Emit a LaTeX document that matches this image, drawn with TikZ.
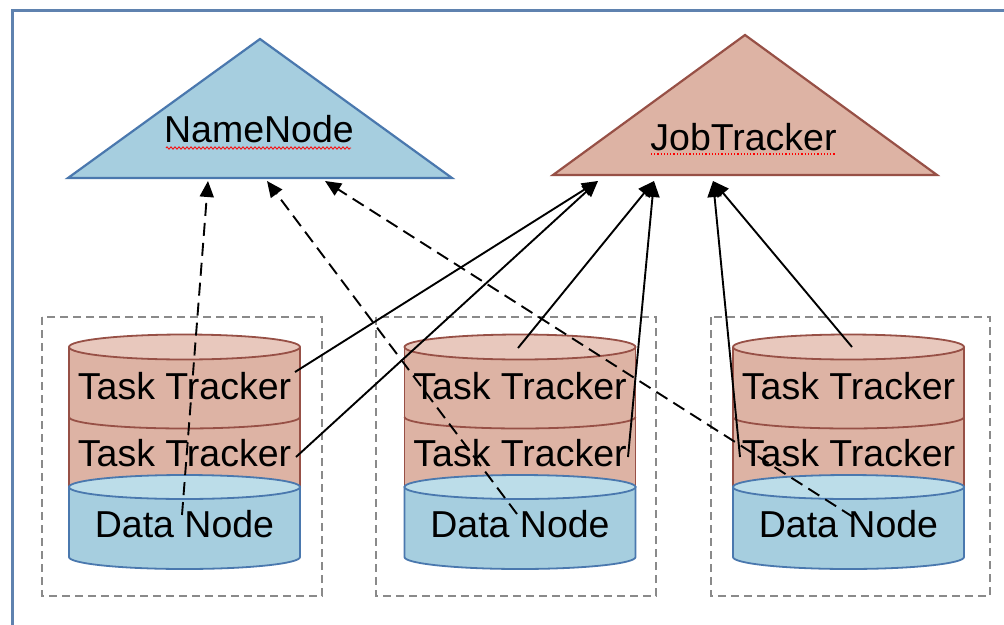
\documentclass[tikz,border=0pt]{standalone}
\usepackage{fontspec}
\setmainfont{Liberation Sans}
\usetikzlibrary{arrows.meta,decorations.pathmorphing}

\definecolor{frameblue}{HTML}{5F82AF}
\definecolor{nnfill}{HTML}{A6CEDF}
\definecolor{nnline}{HTML}{4A78AE}
\definecolor{jtfill}{HTML}{DDB3A4}
\definecolor{jtline}{HTML}{975046}
\definecolor{tttop}{HTML}{E8C8BD}
\definecolor{dntop}{HTML}{BCDDE9}
\definecolor{boxgray}{HTML}{8A8A8A}

% Draws one storage stack (two task trackers on a data node) centred at x = #1
\newcommand\hadoopstack[2]{%
  \begin{scope}[xshift=#1pt]
    % task tracker body
    \fill[jtfill] (-115.5,347) rectangle (115.5,487);
    \draw[ttedge] (-115.5,347) -- (-115.5,487) (115.5,347) -- (115.5,487);
    \draw[ttedge] (-115.5,417) arc[start angle=180, end angle=0, x radius=115.5, y radius=11.5];
    \draw[ttedge, fill=tttop] (0,347) ellipse [x radius=115.5, y radius=12.5];
    % data node body
    \draw[dnedge, fill=nnfill] (-115.5,487) -- (-115.5,557)
      arc[start angle=180, end angle=0, x radius=115.5, y radius=12] -- (115.5,487) -- cycle;
    \draw[dnedge, fill=dntop] (0,487) ellipse [x radius=115.5, y radius=12];
    \node[lbl] (#2tt1) at (0,399) {Task Tracker};
    \node[lbl] (#2tt2) at (0,466) {Task Tracker};
    \node[lbl] (#2dn)  at (0,537) {Data Node};
  \end{scope}}

\begin{document}
\begin{tikzpicture}[x=1pt, y=-1pt,
  lbl/.style={font=\fontsize{37.5}{41}\selectfont, inner sep=0pt, anchor=base},
  ttedge/.style={draw=jtline, line width=1.8pt},
  dnedge/.style={draw=nnline, line width=1.8pt},
  groupbox/.style={draw=boxgray, line width=1.6pt, dash pattern=on 8pt off 5pt},
  heartbeat/.style={draw=black, line width=1.9pt, -{Triangle[length=16pt, width=14pt]}},
  blockreport/.style={heartbeat, dash pattern=on 13pt off 7pt},
]
\useasboundingbox (0,0) rectangle (1004,624);
\clip (0,0) rectangle (1004,624);
\fill[white] (0,0) rectangle (1004,624);

% outer frame (runs off the right and bottom edges)
\draw[frameblue, line width=3pt] (12,10) rectangle (1030,650);

% master nodes
\draw[nnline, line width=2.2pt, fill=nnfill, line join=miter]
  (68,178) -- (260,39) -- (452,178) -- cycle;
\node[lbl] (nn) at (259,142) {NameNode};
\draw[red, line width=0.8pt, decorate,
  decoration={zigzag, amplitude=1.2pt, segment length=4pt}] (166,148) -- (351,148);

\draw[jtline, line width=2.2pt, fill=jtfill, line join=miter]
  (553,175) -- (745,35) -- (937,175) -- cycle;
\node[lbl] (jt) at (743.5,150) {JobTracker};
\draw[red, line width=1.2pt, dash pattern=on 1.2pt off 2pt] (651,154) -- (835,154);

% dashed group boxes
\draw[groupbox] (42,317) rectangle (322,596);
\draw[groupbox] (376,317) rectangle (656,596);
\draw[groupbox] (711,317) rectangle (990,596);

% worker stacks
\hadoopstack{184.5}{a}
\hadoopstack{520}{b}
\hadoopstack{848.5}{c}

% connector end points
\coordinate (nnA) at (208,181);
\coordinate (nnB) at (267,181);
\coordinate (nnC) at (325,181);
\coordinate (jtA) at (598,181);
\coordinate (jtB) at (654,181);
\coordinate (jtC) at (713,181);

\coordinate (a1) at (295,372);
\coordinate (a2) at (296,457);
\coordinate (b1) at (518,348);
\coordinate (b2) at (628,457);
\coordinate (c2) at (740,457);
\coordinate (c1) at (852,347);
\coordinate (ad) at (182,515);
\coordinate (bd) at (517,514);
\coordinate (cd) at (853,517);

% task trackers report to the JobTracker
\draw[heartbeat] (a1) -- (jtA);
\draw[heartbeat] (a2) -- (jtA);
\draw[heartbeat] (b1) -- (jtB);
\draw[heartbeat] (b2) -- (jtB);
\draw[heartbeat] (c2) -- (jtC);
\draw[heartbeat] (c1) -- (jtC);

% data nodes report to the NameNode
\draw[blockreport] (ad) -- (nnA);
\draw[blockreport] (bd) -- (nnB);
\draw[blockreport] (cd) -- (nnC);
\end{tikzpicture}
\end{document}
